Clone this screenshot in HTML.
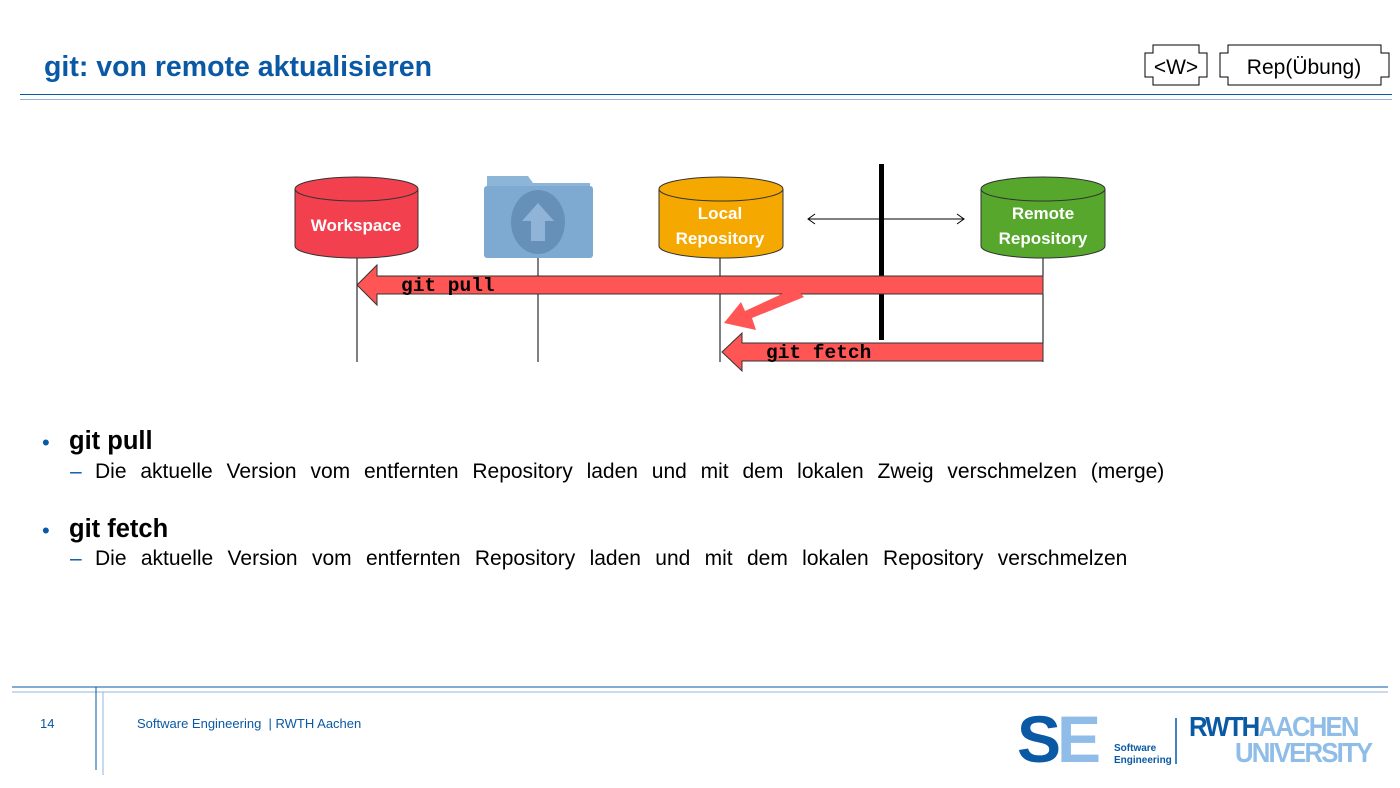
<!DOCTYPE html>
<html><head><meta charset="utf-8"><style>
body{margin:0;width:1400px;height:788px;background:#fff;position:relative;overflow:hidden;font-family:"Liberation Sans",sans-serif}
.a{position:absolute}
</style></head><body>
<div class="a" style="left:44px;top:51px;font-size:28.5px;font-weight:bold;color:#0a59a5">git: von remote aktualisieren</div>
<div class="a" style="left:20px;top:94px;width:1372px;height:1px;background:#0a59a5"></div>
<div class="a" style="left:20px;top:99px;width:1372px;height:1px;background:#8fb4de"></div>
<svg class="a" style="left:0;top:0" width="1400" height="788">
<g fill="none" stroke="#000" stroke-width="1">
<path d="M1153,45 H1199 V53 H1207 V77 H1199 V85 H1153 V77 H1145 V53 H1153 Z"/>
<path d="M1228,45 H1381 V53 H1389 V77 H1381 V85 H1228 V77 H1220 V53 H1228 Z"/>
</g>
<text x="1176" y="74" font-size="21" text-anchor="middle" font-family="Liberation Sans">&lt;W&gt;</text>
<text x="1304" y="74" font-size="21" text-anchor="middle" font-family="Liberation Sans">Rep(Übung)</text>
<g stroke="#000" stroke-width="1">
<line x1="357" y1="258" x2="357" y2="362"/><line x1="538" y1="258" x2="538" y2="362"/>
<line x1="720" y1="258" x2="720" y2="362"/><line x1="1043" y1="258" x2="1043" y2="362"/>
<line x1="808" y1="219" x2="964" y2="219"/>
<path d="M815,214 L808,219 L815,224 M957,214 L964,219 L957,224" fill="none"/>
</g>
<rect x="879" y="164" width="5" height="176" fill="#000"/>
<g stroke="#333" stroke-width="1">
<path d="M295,189 V246 A61.5,12 0 0 0 418,246 V189" fill="#f2404e"/>
<ellipse cx="356.5" cy="189" rx="61.5" ry="12" fill="#f2404e"/>
<path d="M659,189 V246 A62,12 0 0 0 783,246 V189" fill="#f5a800"/>
<ellipse cx="721" cy="189" rx="62" ry="12" fill="#f5a800"/>
<path d="M981,189 V246 A62,12 0 0 0 1105,246 V189" fill="#56a72c"/>
<ellipse cx="1043" cy="189" rx="62" ry="12" fill="#56a72c"/>
</g>
<g fill="#fff" font-weight="bold" font-size="17" text-anchor="middle" font-family="Liberation Sans">
<text x="356" y="231">Workspace</text>
<text x="720" y="219">Local</text><text x="720" y="244">Repository</text>
<text x="1043" y="219">Remote</text><text x="1043" y="244">Repository</text>
</g>
<path d="M487,176 H528 L533,183 H590 V257 H487 Z" fill="#8db5d8"/>
<rect x="484" y="186" width="109" height="72" rx="3" fill="#7ea9d0"/>
<ellipse cx="538" cy="222" rx="27" ry="32" fill="#6690b8"/>
<path d="M538,203 L554,221 H545 V241 H531 V221 H522 Z" fill="#8fb4d8"/>
<g fill="#ff5555" stroke="#333" stroke-width="1">
<path d="M1043,276 H377 V265 L357,285 L377,305 V294 H1043 Z"/>
<path d="M1043,343 H742 V333 L722,352 L742,371 V361 H1043 Z"/>
</g>
<path d="M795,288 L804,297 L752,318 L756,330 L724,323 L741,302 L745,311 Z" fill="#ff5555"/>
<g font-family="Liberation Mono" font-weight="bold" font-size="19.5" fill="#000">
<text x="401" y="291">git pull</text>
<text x="766" y="358">git fetch</text>
</g>
<line x1="12" y1="687" x2="1388" y2="687" stroke="#0a59a5"/>
<line x1="12" y1="692" x2="1388" y2="692" stroke="#8fb4de"/>
<line x1="96" y1="687" x2="96" y2="770" stroke="#0a59a5"/>
<line x1="103" y1="692" x2="103" y2="775" stroke="#8fb4de"/>
<line x1="1176" y1="718" x2="1176" y2="764" stroke="#0a59a5" stroke-width="1.5"/>
</svg>
<div class="a" style="left:42px;top:430px;font-size:22px;color:#0a59a5">•</div>
<div class="a" style="left:69px;top:427px;font-size:25.5px;font-weight:bold">git pull</div>
<div class="a" style="left:70px;top:460px;font-size:21px;color:#0a59a5">–</div>
<div class="a" style="left:95px;top:460px;font-size:21px;word-spacing:8px">Die aktuelle Version vom entfernten Repository laden und mit dem lokalen Zweig verschmelzen (merge)</div>
<div class="a" style="left:42px;top:518px;font-size:22px;color:#0a59a5">•</div>
<div class="a" style="left:69px;top:515px;font-size:25.5px;font-weight:bold">git fetch</div>
<div class="a" style="left:70px;top:547px;font-size:21px;color:#0a59a5">–</div>
<div class="a" style="left:95px;top:547px;font-size:21px;word-spacing:8.5px">Die aktuelle Version vom entfernten Repository laden und mit dem lokalen Repository verschmelzen</div>
<div class="a" style="left:40px;top:716px;font-size:13px;color:#0a59a5">14</div>
<div class="a" style="left:137px;top:716px;font-size:13px;color:#0a59a5">Software Engineering &nbsp;| RWTH Aachen</div>
<div class="a" style="left:1017px;top:706px;font-size:66px;font-weight:bold;letter-spacing:-4px;line-height:66px"><span style="color:#0a59a5">S</span><span style="color:#8fbde8">E</span></div>
<div class="a" style="left:1114px;top:743px;font-size:10px;font-weight:bold;color:#0a59a5;line-height:12px">Software<br>Engineering</div>
<div class="a" style="left:1189px;top:714px;font-size:28px;font-weight:bold;line-height:26px;letter-spacing:-2px;transform:scaleX(0.92);transform-origin:left"><span style="color:#0a59a5">RWTH</span><span style="color:#8fbde8">AACHEN</span><br><span style="color:#8fbde8;padding-left:50px">UNIVERSITY</span></div>
</body></html>
